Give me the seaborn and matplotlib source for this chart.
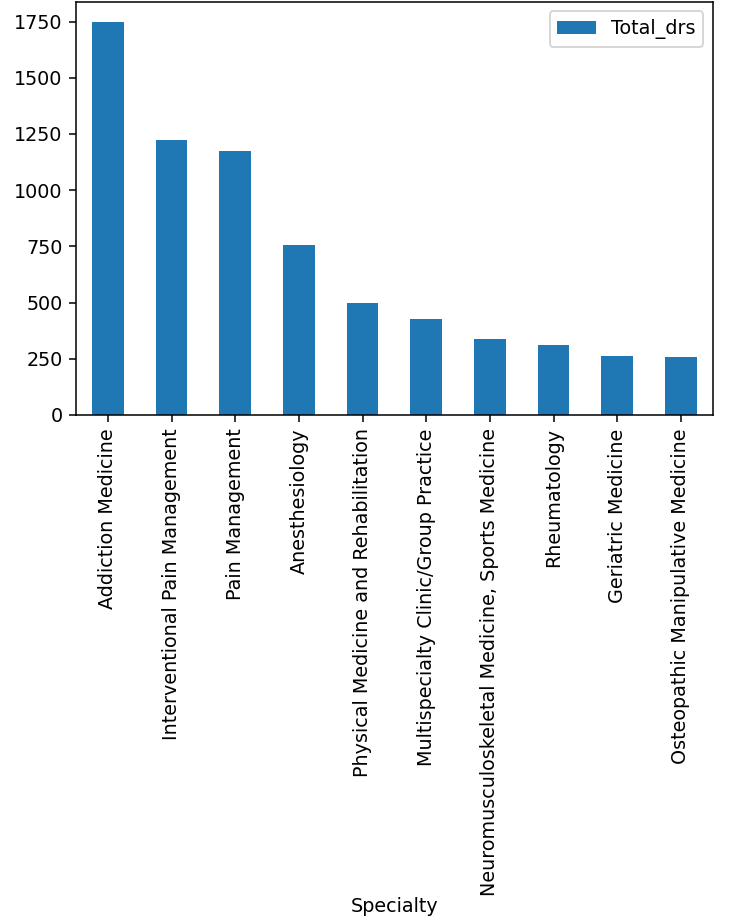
import pandas as pd
import seaborn as sns
import matplotlib.pyplot as plt

# values
specialties = [
    "Addiction Medicine",
    "Interventional Pain Management",
    "Pain Management",
    "Anesthesiology",
    "Physical Medicine and Rehabilitation",
    "Multispecialty Clinic/Group Practice",
    "Neuromusculoskeletal Medicine, Sports Medicine",
    "Rheumatology",
    "Geriatric Medicine",
    "Osteopathic Manipulative Medicine",
]
total_drs = [1750, 1221, 1176, 754, 496, 425, 336, 310, 261, 256]

df = pd.DataFrame({"Specialty": specialties, "Total_drs": total_drs})

plt.rcParams["font.family"] = ["DejaVu Sans"]

DPI = 138
fig, ax = plt.subplots(figsize=(753 / DPI, 920 / DPI), dpi=DPI)
fig.subplots_adjust(left=0.101, right=0.9465, top=0.998, bottom=0.549)

sns.barplot(data=df, x="Specialty", y="Total_drs", color="#1f77b4",
            saturation=1, width=0.5, label="Total_drs", ax=ax)

ax.set_ylim(0, 1837.5)
ax.set_xlim(-0.5, len(specialties) - 0.5)
ax.set_ylabel("")
# keep the label just inside the bottom edge
ax.set_xlabel("Specialty", labelpad=0.5)
ax.tick_params(axis="x", labelrotation=90)
ax.legend(loc="upper right")

fig.savefig("out.png", dpi=DPI)
